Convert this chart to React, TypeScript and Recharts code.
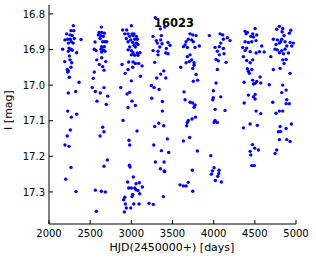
import { ScatterChart, Scatter, XAxis, YAxis } from 'recharts';

// tick labels
const xTicks = [2000, 2500, 3000, 3500, 4000, 4500, 5000];
const yTicks = [16.8, 16.9, 17.0, 17.1, 17.2, 17.3];
const starId = '16023';

// [HJD-2450000, I mag] per observing season
const season1 = [
  [2295, 16.833], [2267, 16.847], [2300, 16.847], [2215, 16.856], [2255, 16.859], [2283, 16.861],
  [2194, 16.873], [2227, 16.871], [2259, 16.871], [2308, 16.869], [2389, 16.872], [2271, 16.878],
  [2235, 16.882], [2295, 16.882], [2166, 16.899], [2243, 16.896], [2267, 16.899], [2283, 16.902],
  [2235, 16.905], [2336, 16.909], [2247, 16.918], [2191, 16.934], [2255, 16.929], [2276, 16.937],
  [2267, 16.95], [2222, 16.956], [2235, 16.96], [2227, 16.963], [2247, 16.978], [2365, 16.992],
  [2324, 17.018], [2235, 17.022], [2227, 17.073], [2336, 17.082], [2271, 17.09], [2259, 17.126],
  [2222, 17.143], [2194, 17.168], [2243, 17.172], [2267, 17.231], [2203, 17.264], [2328, 17.299],
];
const season2 = [
  [2636, 16.837], [2608, 16.852], [2640, 16.852], [2672, 16.854], [2599, 16.859], [2628, 16.861],
  [2660, 16.863], [2620, 16.869], [2559, 16.879], [2652, 16.878], [2680, 16.878], [2701, 16.878],
  [2640, 16.892], [2672, 16.892], [2550, 16.899], [2632, 16.899], [2660, 16.901], [2571, 16.903],
  [2640, 16.907], [2680, 16.905], [2640, 16.923], [2580, 16.929], [2689, 16.934], [2611, 16.942],
  [2652, 16.948], [2668, 16.958], [2550, 16.963], [2538, 16.981], [2526, 17.007], [2668, 17.007],
  [2563, 17.018], [2623, 17.022], [2713, 17.031], [2583, 17.045], [2696, 17.054], [2652, 17.118],
  [2668, 17.131], [2620, 17.143], [2709, 17.21], [2668, 17.228], [2563, 17.295], [2636, 17.298],
  [2684, 17.3], [2575, 17.354],
];
const season3 = [
  [3000, 16.833], [2895, 16.845], [2944, 16.845], [2920, 16.856], [2960, 16.856], [3008, 16.856],
  [3033, 16.856], [2980, 16.863], [3021, 16.861], [3061, 16.863], [2939, 16.869], [2993, 16.873],
  [3041, 16.871], [3073, 16.871], [2960, 16.878], [3017, 16.88], [3061, 16.882], [3033, 16.888],
  [3081, 16.886], [2980, 16.893], [3049, 16.893], [2960, 16.901], [3000, 16.903], [3021, 16.909],
  [3073, 16.91], [3106, 16.909], [3000, 16.915], [3041, 16.916], [3081, 16.916], [2887, 16.942],
  [2968, 16.935], [3021, 16.935], [3049, 16.939], [3090, 16.939], [3130, 16.946], [2960, 16.956],
  [2927, 16.967], [3017, 16.95], [3110, 16.975], [3000, 16.988], [2871, 17.007], [2980, 17.02],
  [2948, 17.025], [3008, 17.045], [3049, 17.057], [2960, 17.063], [2899, 17.099], [3069, 17.129],
  [2972, 17.155], [2980, 17.168], [2976, 17.225], [2984, 17.23], [3024, 17.258], [2956, 17.272],
  [3097, 17.274], [3057, 17.277], [3134, 17.286], [2968, 17.289], [3000, 17.289], [3041, 17.289],
  [3057, 17.294], [3081, 17.296], [3017, 17.307], [3102, 17.305], [2920, 17.315], [3008, 17.313],
  [2907, 17.322], [2927, 17.334], [3029, 17.334], [3094, 17.334], [2939, 17.345], [2993, 17.345],
  [2915, 17.356],
];
const season4 = [
  [3292, 16.811], [3406, 16.837], [3352, 16.842], [3264, 16.863], [3365, 16.861], [3304, 16.875],
  [3357, 16.873], [3446, 16.88], [3316, 16.882], [3373, 16.884], [3470, 16.888], [3345, 16.893],
  [3425, 16.897], [3264, 16.903], [3324, 16.905], [3418, 16.91], [3324, 16.915], [3446, 16.912],
  [3284, 16.936], [3394, 16.96], [3357, 16.969], [3418, 16.98], [3308, 16.98], [3243, 17.001],
  [3276, 17.007], [3337, 17.012], [3248, 17.037], [3377, 17.046], [3377, 17.073], [3333, 17.107],
  [3284, 17.116], [3394, 17.114], [3437, 17.151], [3272, 17.168], [3365, 17.184], [3454, 17.189],
  [3292, 17.216], [3398, 17.216], [3353, 17.235], [3398, 17.241], [3406, 17.243], [3389, 17.313],
  [3215, 17.332], [3267, 17.335],
];
const season5 = [
  [3713, 16.856], [3746, 16.859], [3786, 16.861], [3692, 16.871], [3733, 16.873], [3753, 16.878],
  [3665, 16.878], [3653, 16.887], [3632, 16.892], [3680, 16.894], [3826, 16.89], [3774, 16.894],
  [3713, 16.915], [3680, 16.92], [3733, 16.929], [3705, 16.934], [3665, 16.937], [3762, 16.937],
  [3600, 16.95], [3762, 16.944], [3746, 16.953], [3786, 16.97], [3753, 16.989], [3806, 16.986],
  [3640, 17.019], [3653, 17.041], [3713, 17.048], [3746, 17.05], [3762, 17.062], [3774, 17.056],
  [3778, 17.09], [3737, 17.095], [3692, 17.099], [3680, 17.105], [3672, 17.114], [3709, 17.147],
  [3632, 17.157], [3802, 17.185], [3741, 17.239], [3692, 17.273], [3592, 17.28], [3632, 17.283],
  [3665, 17.283], [3746, 17.298],
];
const season6 = [
  [3948, 16.861], [4078, 16.856], [4110, 16.859], [4118, 16.871], [4166, 16.867], [4199, 16.875],
  [4086, 16.882], [4017, 16.894], [4069, 16.892], [4118, 16.897], [4045, 16.905], [4126, 16.912],
  [4069, 16.915], [4029, 16.928], [4057, 16.932], [4151, 16.936], [4045, 16.956], [4029, 16.994],
  [3996, 17.016], [4086, 17.033], [3996, 17.035], [3989, 17.041], [4017, 17.068], [4138, 17.071],
  [4017, 17.099], [4005, 17.105], [4045, 17.105], [3965, 17.198], [4005, 17.232], [4065, 17.239],
  [3985, 17.241], [3972, 17.25], [4062, 17.248], [4050, 17.256], [4021, 17.268], [4094, 17.272],
];
const season7 = [
  [4503, 16.841], [4382, 16.849], [4409, 16.852], [4474, 16.856], [4523, 16.859], [4394, 16.856],
  [4451, 16.863], [4483, 16.865], [4515, 16.875], [4382, 16.878], [4422, 16.88], [4463, 16.878],
  [4584, 16.89], [4353, 16.894], [4401, 16.896], [4382, 16.903], [4443, 16.906], [4556, 16.906],
  [4613, 16.907], [4515, 16.91], [4361, 16.92], [4401, 16.931], [4474, 16.929], [4443, 16.937],
  [4409, 16.954], [4422, 16.961], [4463, 16.956], [4434, 16.967], [4370, 16.992], [4474, 16.986],
  [4523, 16.99], [4503, 16.995], [4564, 16.977], [4572, 16.994], [4483, 16.997], [4503, 17.026],
  [4422, 17.028], [4483, 17.033], [4503, 17.039], [4370, 17.05], [4515, 17.073], [4572, 17.08],
  [4361, 17.12], [4443, 17.109], [4531, 17.113], [4470, 17.167], [4499, 17.177], [4543, 17.182],
  [4443, 17.186], [4451, 17.196], [4462, 17.226], [4494, 17.226],
];
const season8 = [
  [4798, 16.835], [4839, 16.841], [4766, 16.843], [4936, 16.846], [4919, 16.854], [4831, 16.85],
  [4855, 16.861], [4725, 16.871], [4774, 16.873], [4827, 16.871], [4815, 16.878], [4867, 16.878],
  [4928, 16.88], [4758, 16.886], [4798, 16.882], [4888, 16.89], [4968, 16.882], [4746, 16.899],
  [4774, 16.901], [4827, 16.903], [4867, 16.899], [4948, 16.89], [4798, 16.909], [4847, 16.912],
  [4694, 16.92], [4907, 16.91], [4839, 16.929], [4880, 16.928], [4855, 16.939], [4725, 16.956],
  [4807, 16.953], [4928, 16.967], [4676, 16.999], [4839, 17.0], [4880, 17.014], [4827, 17.021],
  [4888, 17.041], [4919, 17.052], [4718, 17.048], [4880, 17.052], [4758, 17.079], [4798, 17.073],
  [4839, 17.073], [4944, 17.109], [4807, 17.116], [4880, 17.122], [4786, 17.131], [4815, 17.13],
  [4798, 17.153], [4888, 17.153], [4928, 17.158], [4766, 17.182], [4746, 17.192],
];

const points = [season1, season2, season3, season4, season5, season6, season7, season8]
  .flat()
  .map(([hjd, mag]) => ({ hjd, mag }));

const FONT = '"DejaVu Sans", sans-serif';
const TICK_LEN = 4;
const AXIS_COLOR = '#000';

function BottomTick({ x, y, payload }: any) {
  return (
    <g>
      <line x1={x} x2={x} y1={y} y2={y - TICK_LEN} stroke={AXIS_COLOR} />
      <text x={x} y={y + 13} textAnchor="middle" fontSize={10} fontFamily={FONT} fill="#000">
        {payload.value}
      </text>
    </g>
  );
}

function LeftTick({ x, y, payload }: any) {
  return (
    <g>
      <line x1={x} x2={x + TICK_LEN} y1={y} y2={y} stroke={AXIS_COLOR} />
      <text x={x - 4} y={y + 3.6} textAnchor="end" fontSize={10} fontFamily={FONT} fill="#000">
        {Number(payload.value).toFixed(1)}
      </text>
    </g>
  );
}

function TopTick({ x, y }: any) {
  return <line x1={x} x2={x} y1={y} y2={y + TICK_LEN} stroke={AXIS_COLOR} />;
}

function RightTick({ x, y }: any) {
  return <line x1={x} x2={x - TICK_LEN} y1={y} y2={y} stroke={AXIS_COLOR} />;
}

const Dot = ({ cx, cy }: any) => <circle cx={cx} cy={cy} r={1.7} fill="#0000ff" />;

export default function App() {
  return (
    <div style={{ position: 'absolute', left: 0, top: 0, background: '#fff' }}>
      <ScatterChart width={316} height={259} margin={{ top: 5, right: 20, bottom: 0, left: 0 }}>
        <XAxis
          type="number"
          dataKey="hjd"
          domain={[2000, 5000]}
          ticks={xTicks}
          height={35}
          tickSize={0}
          tickMargin={0}
          tickLine={false}
          tick={<BottomTick />}
          axisLine={{ stroke: AXIS_COLOR }}
          interval={0}
        />
        <XAxis
          xAxisId="top"
          orientation="top"
          type="number"
          dataKey="hjd"
          domain={[2000, 5000]}
          ticks={xTicks}
          height={0}
          tickSize={0}
          tickMargin={0}
          tickLine={false}
          tick={<TopTick />}
          axisLine={{ stroke: AXIS_COLOR }}
          interval={0}
        />
        <YAxis
          type="number"
          dataKey="mag"
          domain={[16.775, 17.39]}
          reversed
          ticks={yTicks}
          width={49}
          tickSize={0}
          tickMargin={0}
          tickLine={false}
          tick={<LeftTick />}
          axisLine={{ stroke: AXIS_COLOR }}
          interval={0}
          allowDataOverflow
        />
        <YAxis
          yAxisId="right"
          orientation="right"
          type="number"
          dataKey="mag"
          domain={[16.775, 17.39]}
          reversed
          ticks={yTicks}
          width={0}
          tickSize={0}
          tickMargin={0}
          tickLine={false}
          tick={<RightTick />}
          axisLine={{ stroke: AXIS_COLOR }}
          interval={0}
          allowDataOverflow
        />
        <Scatter
          data={points}
          xAxisId="top"
          yAxisId="right"
          shape={() => <g />}
          isAnimationActive={false}
        />
        <Scatter data={points} shape={<Dot />} isAnimationActive={false} />
        <text x={174} y={26.5} textAnchor="middle" fontSize={11.5} fontWeight="bold" fontFamily={FONT} fill="#000">
          {starId}
        </text>
        <text x={172} y={250.5} textAnchor="middle" fontSize={11} fontFamily={FONT} fill="#000">
          HJD(2450000+) [days]
        </text>
        <text transform="translate(11.7,110) rotate(-90)" textAnchor="middle" fontSize={11} fontFamily={FONT} fill="#000">
          I [mag]
        </text>
      </ScatterChart>
    </div>
  );
}
